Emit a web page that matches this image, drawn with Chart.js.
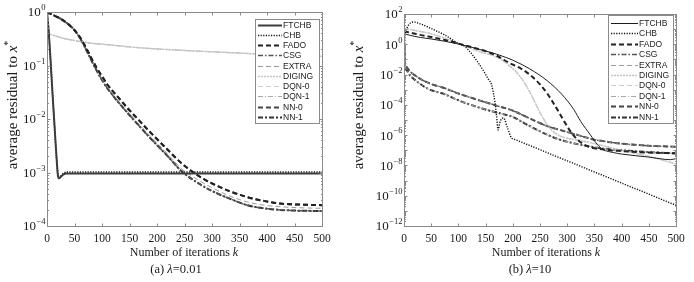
<!DOCTYPE html>
<html>
<head>
<meta charset="utf-8">
<script src="https://cdn.jsdelivr.net/npm/chart.js@4.4.1/dist/chart.umd.min.js"></script>
<style>
  html, body { margin: 0; padding: 0; background: #fff; }
  #wrap { position: relative; width: 694px; height: 282px; overflow: hidden; }
  canvas { position: absolute; top: 0; }
  #chartA { left: 0; }
  #chartB { left: 347px; }
</style>
</head>
<body>
<div id="wrap">
  <canvas id="chartA" width="347" height="282"></canvas>
  <canvas id="chartB" width="347" height="282"></canvas>
</div>
<script>
// ---- shared axis / legend data ----
const legendNames = ['FTCHB', 'CHB', 'FADO', 'CSG', 'EXTRA', 'DIGING', 'DQN-0', 'DQN-1', 'NN-0', 'NN-1'];
const xTicks = [0, 50, 100, 150, 200, 250, 300, 350, 400, 450, 500];
const yTickExpA = [0, -1, -2, -3, -4];
const yTickExpB = [2, 0, -2, -4, -6, -8, -10, -12];

// ---- (a) lambda = 0.01 ----
const kFastA = [0, 3, 6, 9, 12, 15, 18, 20, 22, 25, 30, 35, 50, 100, 200, 300, 400, 500];
const ftchbA = [1, 0.45, 0.15, 0.045, 0.014, 4.5e-3, 1.5e-3, 8.6e-4, 7.8e-4, 8.3e-4, 9.2e-4, 9.6e-4, 9.6e-4, 9.6e-4, 9.6e-4, 9.6e-4, 9.6e-4, 9.6e-4];
const chbA   = [1, 0.45, 0.15, 0.045, 0.014, 4.5e-3, 1.5e-3, 8.6e-4, 7.9e-4, 8.6e-4, 9.6e-4, 1.02e-3, 1.02e-3, 1.02e-3, 1.02e-3, 1.02e-3, 1.02e-3, 1.02e-3];

const kSlowA = [0, 10, 20, 30, 40, 50, 60, 70, 80, 90, 100, 110, 130, 145, 165, 188, 218, 245, 275, 303, 335, 364, 394, 424, 460, 500];
const fadoA  = [1, 0.891, 0.794, 0.692, 0.575, 0.457, 0.335, 0.224, 0.141, 0.0912, 0.0631, 0.0437, 0.0251, 0.0166, 0.01, 5.62e-3, 2.75e-3, 1.48e-3, 8.7e-4, 6.03e-4, 4.37e-4, 3.47e-4, 2.95e-4, 2.63e-4, 2.51e-4, 2.45e-4];
const extraA = [1, 0.891, 0.794, 0.692, 0.575, 0.457, 0.329, 0.214, 0.134, 0.085, 0.0562, 0.0389, 0.0219, 0.0145, 8.51e-3, 4.79e-3, 2.29e-3, 1.17e-3, 7.24e-4, 5.01e-4, 3.55e-4, 2.82e-4, 2.45e-4, 2.29e-4, 2.19e-4, 2.14e-4];
const csgA   = [1, 0.891, 0.794, 0.692, 0.575, 0.457, 0.324, 0.209, 0.129, 0.0813, 0.0537, 0.0372, 0.0204, 0.0135, 7.94e-3, 4.37e-3, 2.09e-3, 1.05e-3, 6.31e-4, 4.37e-4, 3.16e-4, 2.45e-4, 2.14e-4, 2.0e-4, 1.93e-4, 1.91e-4];

const kTopA = [0, 10, 25, 48, 75, 109, 170, 250, 333, 420, 500];
const topA  = [0.398, 0.372, 0.331, 0.295, 0.266, 0.245, 0.214, 0.191, 0.174, 0.158, 0.148];

// ---- (b) lambda = 10 ----
const kFtchbB = [0, 10, 30, 50, 75, 100, 130, 150, 170, 186, 200, 230, 263, 290, 312, 325, 343, 355, 366, 385, 400, 450, 480, 490, 500];
const ftchbB  = [5.0, 3.98, 2.82, 2.24, 1.58, 1.05, 0.562, 0.355, 0.224, 0.141, 0.0891, 0.0251, 3.98e-3, 5.01e-4, 5.01e-5, 7.94e-6, 1e-6, 2.51e-7, 1.12e-7, 7.08e-8, 5.62e-8, 3.55e-8, 2.51e-8, 2.4e-8, 2.82e-8];

const kFadoB = [0, 10, 30, 50, 75, 100, 130, 150, 170, 195, 215, 232, 250, 263, 280, 293, 305, 316, 330, 345, 360, 400, 450, 500];
const fadoB  = [7.08, 6.03, 4.17, 3.02, 1.91, 1.12, 0.562, 0.355, 0.178, 0.055, 0.0251, 9.33e-3, 2.24e-3, 5.89e-4, 6.31e-5, 1e-5, 2e-6, 6.31e-7, 2.51e-7, 1.51e-7, 1.2e-7, 8.91e-8, 7.08e-8, 6.31e-8];

const kDigingB = [0, 10, 25, 45, 75, 106, 140, 168, 195, 215, 232, 250, 263, 281, 300, 330, 355, 400, 450, 500];
const digingB  = [11.2, 9.55, 7.59, 5.5, 2.51, 0.933, 0.316, 0.155, 0.0355, 6.31e-3, 6.31e-4, 3.16e-5, 5.01e-6, 1.12e-6, 6.31e-7, 3.98e-7, 2.51e-7, 1e-7, 3.98e-8, 1.26e-8];

const kChbB = [0, 5, 10, 17, 30, 48, 75, 100, 112, 125, 135, 145, 155, 161, 167, 170, 173, 176, 180, 183, 190, 198, 202, 210, 300, 400, 500];
const chbB  = [3.98, 11.2, 22.4, 29.5, 22.4, 11.7, 4.07, 1.12, 0.708, 0.224, 0.0708, 0.0204, 5.01e-3, 2.09e-3, 1.62e-4, 2.14e-5, 2.19e-6, 6.31e-6, 1.26e-5, 1.35e-5, 3.16e-6, 6.31e-7, 5.51e-7, 4.21e-7, 2.01e-8, 6.87e-10, 2.34e-11];

const kLowB  = [0, 2, 5, 10, 20, 45, 75, 100, 140, 170, 200, 230, 263, 287, 320, 350, 375, 400, 450, 500];
const lowUpB = [3.98, 0.0631, 0.0316, 0.0178, 8.91e-3, 2.82e-3, 1.26e-3, 5.62e-4, 1.91e-4, 8.91e-5, 4.17e-5, 1.32e-5, 3.98e-6, 2.19e-6, 1e-6, 5.01e-7, 3.55e-7, 2.75e-7, 2e-7, 1.7e-7];
const lowDnB = [3.98, 0.0398, 0.02, 0.01, 4.47e-3, 1.12e-3, 5.01e-4, 2e-4, 6.31e-5, 3.16e-5, 1.58e-5, 4.17e-6, 1.07e-6, 5.01e-7, 2.51e-7, 1.58e-7, 1.2e-7, 1e-7, 7.59e-8, 6.31e-8];

// ---- line styles (legend order) ----
const styles = {
  FTCHB:  { borderColor: '#3c3c3c', borderWidth: 2, borderDash: [] },
  CHB:    { borderColor: '#111111', borderWidth: 1.4, borderDash: [1.2, 1.4] },
  FADO:   { borderColor: '#222222', borderWidth: 2, borderDash: [5, 3] },
  CSG:    { borderColor: '#555555', borderWidth: 1.5, borderDash: [5, 2, 1.5, 2] },
  EXTRA:  { borderColor: '#9a9a9a', borderWidth: 1, borderDash: [5, 3] },
  DIGING: { borderColor: '#c4c4c4', borderWidth: 1.5, borderDash: [2, 1] },
  'DQN-0': { borderColor: '#d0d0d0', borderWidth: 1.2, borderDash: [5, 3] },
  'DQN-1': { borderColor: '#a8a8a8', borderWidth: 1, borderDash: [5, 2, 1, 2] },
  'NN-0': { borderColor: '#454545', borderWidth: 2, borderDash: [5, 3] },
  'NN-1': { borderColor: '#333333', borderWidth: 2, borderDash: [5, 2, 2, 2] }
};

function series(label, ks, vals, extra) {
  return Object.assign({
    label: label,
    data: ks.map((k, i) => ({ x: k, y: vals[i] })),
    pointRadius: 0,
    fill: false,
    cubicInterpolationMode: 'monotone'
  }, styles[label], extra || {});
}

const SERIF = "'Liberation Serif', 'Times New Roman', serif";
const SANS = "'Liberation Sans', Arial, sans-serif";

// draw "10" with a raised exponent, right aligned at xr
function drawPow(ctx, xr, yc, exp) {
  const base = '10';
  const e = exp === 0 ? '0' : (exp < 0 ? '\u2212' + Math.abs(exp) : String(exp));
  ctx.font = '13px ' + SERIF;
  const wb = ctx.measureText(base).width;
  ctx.font = '8.5px ' + SERIF;
  const we = ctx.measureText(e).width;
  const x0 = xr - wb - we;
  ctx.textAlign = 'left';
  ctx.textBaseline = 'middle';
  ctx.font = '13px ' + SERIF;
  ctx.fillText(base, x0, yc + 1);
  ctx.font = '8.5px ' + SERIF;
  ctx.fillText(e, x0 + wb + 0.5, yc - 4);
}

// draw a run of [text, font, dy] pieces centred on cx
function drawRun(ctx, cx, cy, parts) {
  let total = 0;
  parts.forEach(p => { ctx.font = p[1]; total += ctx.measureText(p[0]).width; });
  let x = cx - total / 2;
  ctx.textAlign = 'left';
  ctx.textBaseline = 'middle';
  parts.forEach(p => {
    ctx.font = p[1];
    ctx.fillText(p[0], x, cy + (p[2] || 0));
    x += ctx.measureText(p[0]).width;
  });
}

function line(ctx, x1, y1, x2, y2) {
  ctx.beginPath(); ctx.moveTo(x1, y1); ctx.lineTo(x2, y2); ctx.stroke();
}

const matlabFrame = {
  id: 'matlabFrame',
  afterDraw(chart, args, o) {
    const { ctx, chartArea: a } = chart;
    const xs = chart.scales.x, ys = chart.scales.y;
    const L = Math.round(a.left) + 0.5, R = Math.round(a.right) + 0.5;
    const T = Math.round(a.top) + 0.5, B = Math.round(a.bottom) + 0.5;
    ctx.save();

    // box and ticks
    ctx.strokeStyle = '#8a8a8a';
    ctx.lineWidth = 1;
    ctx.strokeRect(L, T, R - L, B - T);
    xTicks.forEach(v => {
      const px = Math.round(xs.getPixelForValue(v)) + 0.5;
      line(ctx, px, B, px, B - 3);
      line(ctx, px, T, px, T + 3);
    });
    for (let e = o.expMin; e <= o.expMax; e++) {
      const py = Math.round(ys.getPixelForValue(Math.pow(10, e))) + 0.5;
      line(ctx, L, py, L + 3, py);
      line(ctx, R, py, R - 3, py);
      if (e < o.expMax) {
        for (let m = 2; m <= 9; m++) {
          const pm = Math.round(ys.getPixelForValue(m * Math.pow(10, e))) + 0.5;
          line(ctx, L, pm, L + 1.5, pm);
          line(ctx, R, pm, R - 1.5, pm);
        }
      }
    }

    // tick labels
    ctx.fillStyle = '#1a1a1a';
    ctx.font = '11.5px ' + SERIF;
    ctx.textAlign = 'center';
    ctx.textBaseline = 'middle';
    xTicks.forEach(v => ctx.fillText(String(v), xs.getPixelForValue(v), a.bottom + 12.5));
    o.yLabels.forEach(e => drawPow(ctx, a.left - 2, ys.getPixelForValue(Math.pow(10, e)), e));

    // axis titles
    drawRun(ctx, o.xTitleX, 253, [
      ['Number of iterations ', '12px ' + SERIF],
      ['k', 'italic 12px ' + SERIF]
    ]);
    drawRun(ctx, o.capX, 270, o.caption);
    ctx.save();
    ctx.translate(o.yTitleX, 105);
    ctx.rotate(-Math.PI / 2);
    drawRun(ctx, 0, 0, [
      ['average residual to ', '15px ' + SERIF],
      ['x', 'italic 15px ' + SERIF],
      ['*', '10px ' + SERIF, -5]
    ]);
    ctx.restore();

    // legend box
    const lg = o.legend;
    ctx.fillStyle = '#ffffff';
    ctx.fillRect(lg.x, lg.y, lg.w, lg.h);
    ctx.strokeStyle = '#8a8a8a';
    ctx.strokeRect(lg.x + 0.5, lg.y + 0.5, lg.w, lg.h);
    chart.data.datasets.forEach((ds, i) => {
      const yy = Math.round(lg.first + i * lg.step) + 0.5;
      ctx.strokeStyle = ds.borderColor;
      ctx.lineWidth = ds.borderWidth;
      ctx.setLineDash(ds.borderDash || []);
      line(ctx, lg.x + 3, yy, lg.x + 3 + lg.sample, yy);
      ctx.setLineDash([]);
      ctx.fillStyle = '#222';
      ctx.font = '8.5px ' + SANS;
      ctx.textAlign = 'left';
      ctx.textBaseline = 'middle';
      ctx.fillText(ds.label, lg.x + 4 + lg.sample, yy + 0.5);
    });
    ctx.restore();
  }
};

function makeChart(id, datasets, yMin, yMax, pad, frame) {
  return new Chart(document.getElementById(id), {
    type: 'line',
    data: { datasets: datasets },
    options: {
      responsive: false,
      animation: false,
      devicePixelRatio: 1,
      layout: { padding: pad },
      plugins: { legend: { display: false }, tooltip: { enabled: false }, matlabFrame: frame },
      scales: {
        x: { type: 'linear', min: 0, max: 500, display: false },
        y: { type: 'logarithmic', min: yMin, max: yMax, display: false }
      }
    },
    plugins: [matlabFrame]
  });
}

makeChart('chartA', [
  series('FTCHB', kFastA, ftchbA),
  series('CHB', kFastA, chbA),
  series('FADO', kSlowA, fadoA),
  series('CSG', kSlowA, csgA),
  series('EXTRA', kSlowA, extraA),
  series('DIGING', kTopA, topA),
  series('DQN-0', kTopA, topA),
  series('DQN-1', kTopA, topA),
  series('NN-0', kSlowA, fadoA),
  series('NN-1', kSlowA, csgA)
], 1e-4, 1, { left: 47, right: 25, top: 12, bottom: 56 }, {
  expMin: -4, expMax: 0, yLabels: yTickExpA,
  xTitleX: 184, capX: 176, yTitleX: 13,
  caption: [['(a) ', '12.5px ' + SERIF], ['\u03bb', 'italic 12.5px ' + SERIF], ['=0.01', '12.5px ' + SERIF]],
  legend: { x: 255, y: 19, w: 64, h: 104, first: 24.5, step: 10.27, sample: 24 }
});

makeChart('chartB', [
  series('FTCHB', kFtchbB, ftchbB, { borderColor: '#1e1e1e', borderWidth: 1 }),
  series('CHB', kChbB, chbB),
  series('FADO', kFadoB, fadoB),
  series('CSG', kLowB, lowUpB),
  series('EXTRA', kLowB, lowUpB),
  series('DIGING', kDigingB, digingB),
  series('DQN-0', kDigingB, digingB),
  series('DQN-1', kLowB, lowDnB),
  series('NN-0', kLowB, lowUpB),
  series('NN-1', kLowB, lowDnB)
], 1e-12, 100, { left: 57, right: 18, top: 14, bottom: 56 }, {
  expMin: -12, expMax: 2, yLabels: yTickExpB,
  xTitleX: 199, capX: 183, yTitleX: 12,
  caption: [['(b) ', '12.5px ' + SERIF], ['\u03bb', 'italic 12.5px ' + SERIF], ['=10', '12.5px ' + SERIF]],
  legend: { x: 261, y: 15, w: 65, h: 108, first: 23, step: 10.4, sample: 27 }
});
</script>
</body>
</html>
